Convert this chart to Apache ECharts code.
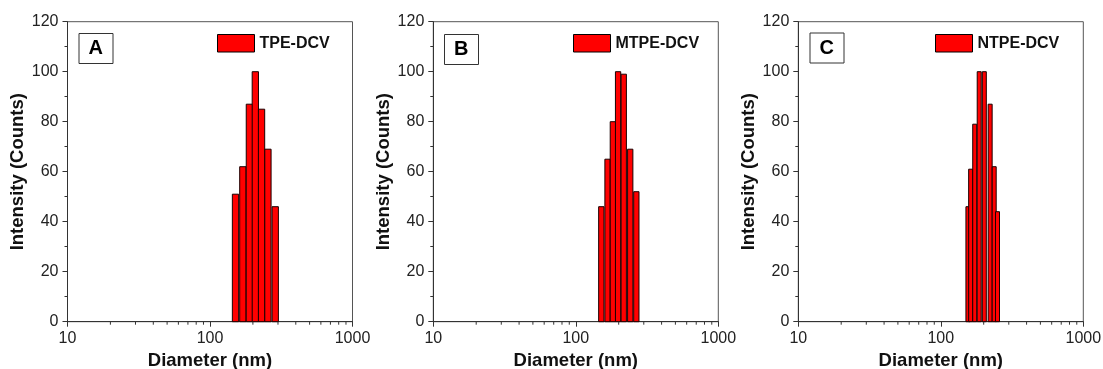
<!DOCTYPE html>
<html>
<head>
<meta charset="utf-8">
<script src="https://cdn.jsdelivr.net/npm/echarts@6/dist/echarts.min.js"></script>
<style>
  html, body { margin: 0; padding: 0; background: #fff; }
  #chart { width: 1103px; height: 369px; }
</style>
</head>
<body>
<div id="chart"></div>
<script>
// bin centres (nm) and intensities
const diamA = [151, 170, 189, 208, 230, 255, 287];
const countA = [51, 62, 87, 100, 85, 69, 46];
const diamB = [151, 167, 182, 198, 217, 241, 266];
const countB = [46, 65, 80, 100, 99, 69, 52];
const diamC = [155, 162, 173, 186, 202, 222, 237, 250];
const countC = [46, 61, 79, 100, 100, 87, 62, 44];

const names = ["TPE-DCV", "MTPE-DCV", "NTPE-DCV"];
const panelLetters = ["A", "B", "C"];
const yTicks = [0, 20, 40, 60, 80, 100, 120];
const xMinorTicks = [20, 30, 40, 50, 60, 70, 80, 90, 200, 300, 400, 500, 600, 700, 800, 900];

const FONT = "'Liberation Sans', Arial, sans-serif";
const AXIS_COLOR = "#333";

const panels = [
  { left: 67.5, diam: diamA, count: countA, barW: 6.3, legendLeft: 217, boxLeft: 78.5, boxTop: 33 },
  { left: 433.3, diam: diamB, count: countB, barW: 5.3, legendLeft: 573, boxLeft: 444, boxTop: 34 },
  { left: 798.3, diam: diamC, count: countC, barW: 4, legendLeft: 935, boxLeft: 809.5, boxTop: 32.5 },
];

const chart = echarts.init(document.getElementById("chart"), null, { renderer: "canvas" });

const grid = [], xAxis = [], yAxis = [], series = [], legend = [], title = [];

panels.forEach((p, i) => {
  grid.push({
    left: p.left, top: 21.7, width: 285, height: 300,
    outerBoundsMode: "none", containLabel: false,
    show: true, borderColor: "#555", borderWidth: 1, backgroundColor: "transparent",
  });

  xAxis.push({
    type: "log", gridIndex: i, min: 10, max: 1000, logBase: 10,
    name: "Diameter (nm)", nameLocation: "middle", nameGap: 28.5,
    nameTextStyle: { fontFamily: FONT, fontWeight: "bold", fontSize: 18.5, color: "#111" },
    axisLine: { lineStyle: { color: AXIS_COLOR, width: 1 } },
    axisTick: { show: true, length: 5, lineStyle: { color: AXIS_COLOR } },
    axisLabel: { fontFamily: FONT, fontSize: 16, color: "#222", margin: 9, formatter: (v) => String(v) },
    splitLine: { show: false },
  });

  yAxis.push({
    type: "value", gridIndex: i, min: yTicks[0], max: yTicks[yTicks.length - 1], interval: 20,
    name: "Intensity (Counts)", nameLocation: "middle", nameGap: 38,
    nameTextStyle: { fontFamily: FONT, fontWeight: "bold", fontSize: 18.5, color: "#111" },
    axisLine: { show: true, lineStyle: { color: AXIS_COLOR, width: 1 } },
    axisTick: { show: true, length: 5, lineStyle: { color: AXIS_COLOR } },
    minorTick: { show: true, splitNumber: 2, length: 3, lineStyle: { color: AXIS_COLOR } },
    axisLabel: { fontFamily: FONT, fontSize: 16, color: "#222", margin: 9 },
    splitLine: { show: false },
  });

  const barW = p.barW;
  series.push({
    type: "custom",
    name: names[i],
    xAxisIndex: i, yAxisIndex: i,
    data: p.diam.map((d, k) => [d, p.count[k]]),
    itemStyle: { color: "#ff0000", borderColor: "#000", borderWidth: 1 },
    renderItem: (params, api) => {
      const top = api.coord([api.value(0), api.value(1)]);
      const base = api.coord([api.value(0), 0]);
      return {
        type: "rect",
        shape: { x: top[0] - barW / 2, y: top[1], width: barW, height: base[1] - top[1] },
        style: { fill: "#ff0000", stroke: "#1a0000", lineWidth: 1 },
      };
    },
  });

  // minor ticks of the log x axis (2..9 in each decade)
  series.push({
    type: "custom",
    xAxisIndex: i, yAxisIndex: i,
    silent: true, clip: false,
    data: xMinorTicks.map((v) => [v, 0]),
    renderItem: (params, api) => {
      const pt = api.coord([api.value(0), 0]);
      return {
        type: "line",
        shape: { x1: pt[0], y1: pt[1], x2: pt[0], y2: pt[1] + 3 },
        style: { stroke: AXIS_COLOR, lineWidth: 1 },
      };
    },
  });

  legend.push({
    data: [names[i]],
    left: p.legendLeft, top: 34, padding: 0,
    icon: "rect", itemWidth: 37, itemHeight: 17.5, itemGap: 5,
    itemStyle: { color: "#ff0000", borderColor: "#000", borderWidth: 1 },
    textStyle: { fontFamily: FONT, fontWeight: "bold", fontSize: 16, color: "#111", padding: [0, 0, 0, 0] },
    selectedMode: false,
  });

  title.push({
    text: panelLetters[i],
    left: p.boxLeft, top: p.boxTop,
    padding: [5, 10, 5, 10],
    borderWidth: 1, borderColor: "#333",
    textStyle: { fontFamily: FONT, fontWeight: "bold", fontSize: 20, color: "#000", lineHeight: 21 },
  });
});

chart.setOption({
  animation: false,
  backgroundColor: "#fff",
  title, grid, xAxis, yAxis, legend, series,
});
</script>
</body>
</html>
